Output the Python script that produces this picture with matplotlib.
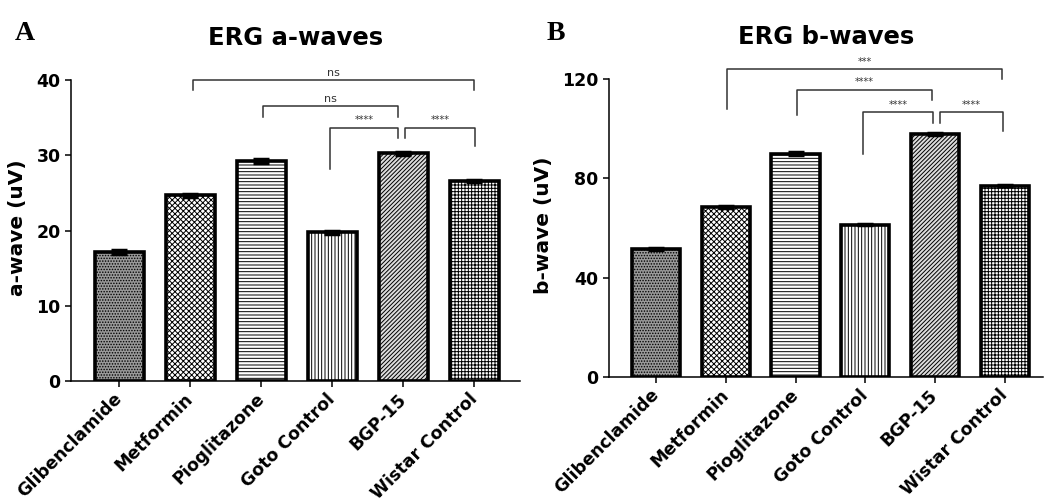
import matplotlib
matplotlib.use('Agg')
import matplotlib.pyplot as plt
import numpy as np

# data
groups = ['Glibenclamide', 'Metformin', 'Pioglitazone', 'Goto Control', 'BGP-15', 'Wistar Control']
a_means = [17.2, 24.7, 29.3, 19.8, 30.3, 26.6]
a_err = [0.25, 0.2, 0.25, 0.2, 0.2, 0.15]
b_means = [51.5, 68.5, 90.0, 61.4, 97.7, 77.1]
b_err = [0.5, 0.3, 0.5, 0.3, 0.4, 0.3]

# significance comparisons and labels
a_labels = ['ns', 'ns', '****', '****']
b_labels = ['***', '****', '****', '****']

hatches = ['......', 'xxxxxx', '-----', '|||||', '////////', '+++++']
faces = ['#999999', 'white', 'white', 'white', '#dddddd', 'white']

plt.rcParams['font.family'] = 'DejaVu Sans'
plt.rcParams['font.weight'] = 'bold'
plt.rcParams['hatch.linewidth'] = 0.7

fig = plt.figure(figsize=(10.46, 5.04), dpi=100)
axA = fig.add_axes([0.0679, 0.244, 0.429, 0.597])
axB = fig.add_axes([0.582, 0.252, 0.415, 0.591])


def draw_bars(ax, means, err):
    x = np.arange(len(means))
    for i in range(len(means)):
        ax.bar(x[i], means[i], width=0.69, color=faces[i], edgecolor='black',
               hatch=hatches[i], linewidth=2.6, zorder=2)
    ax.errorbar(x, means, yerr=err, fmt='none', ecolor='black', elinewidth=1.5,
                capsize=6, capthick=2.5, zorder=3)
    ax.set_xticks(x)
    ax.set_xticklabels(groups, rotation=45, ha='right', va='center',
                       rotation_mode='anchor', fontsize=13.5, fontweight='bold')
    for s in ['top', 'right']:
        ax.spines[s].set_visible(False)
    for s in ['left', 'bottom']:
        ax.spines[s].set_linewidth(1.1)
    ax.tick_params(axis='both', width=1.1, length=4, labelsize=12.5)
    ax.tick_params(axis='x', pad=7)


def bracket(ax, x1, x2, y, t1, t2, label, fs):
    ax.plot([x1, x1, x2, x2], [t1, y, y, t2], color='#333333', lw=1.1,
            clip_on=False, zorder=4)
    ax.annotate(label, xy=((x1 + x2) / 2, y), xytext=(0, 1.5),
                textcoords='offset points', ha='center', va='bottom',
                fontsize=fs, fontweight='normal', color='#333333',
                annotation_clip=False)


# panel A
draw_bars(axA, a_means, a_err)
axA.set_xlim(-0.68, 5.64)
axA.set_ylim(0, 40)
axA.set_yticks([0, 10, 20, 30, 40])
axA.set_ylabel('a-wave (uV)', fontsize=14.5, fontweight='bold')
axA.yaxis.set_label_coords(-0.098, 0.51)
axA.set_title('ERG a-waves', fontsize=17.5, fontweight='bold', pad=25)

a_geom = [(1.04, 5.0, 40.0, 38.7, 38.7),
          (2.03, 3.93, 36.5, 35.1, 35.1),
          (2.97, 3.93, 33.7, 28.2, 32.3),
          (4.03, 5.01, 33.7, 32.3, 31.3)]
for (x1, x2, y, t1, t2), lab in zip(a_geom, a_labels):
    bracket(axA, x1, x2, y, t1, t2, lab, 8 if lab == 'ns' else 7)

# panel B
draw_bars(axB, b_means, b_err)
axB.set_xlim(-0.68, 5.55)
axB.set_ylim(0, 120)
axB.set_yticks([0, 40, 80, 120])
axB.set_ylabel('b-wave (uV)', fontsize=14.5, fontweight='bold')
axB.yaxis.set_label_coords(-0.129, 0.51)
axB.set_title('ERG b-waves', fontsize=17.5, fontweight='bold', pad=25)

b_geom = [(1.02, 4.96, 124.0, 107.8, 120.0),
          (2.02, 3.96, 115.8, 105.4, 111.5),
          (2.97, 3.98, 106.8, 89.7, 102.5),
          (4.07, 4.98, 106.8, 102.5, 99.0)]
for (x1, x2, y, t1, t2), lab in zip(b_geom, b_labels):
    bracket(axB, x1, x2, y, t1, t2, lab, 7)

fig.text(15 / 1046, 1 - 40 / 504, 'A', family='Liberation Serif', fontweight='bold',
         fontsize=20, va='baseline')
fig.text(547 / 1046, 1 - 40 / 504, 'B', family='Liberation Serif', fontweight='bold',
         fontsize=20, va='baseline')

fig.savefig('out.png', dpi=100)
